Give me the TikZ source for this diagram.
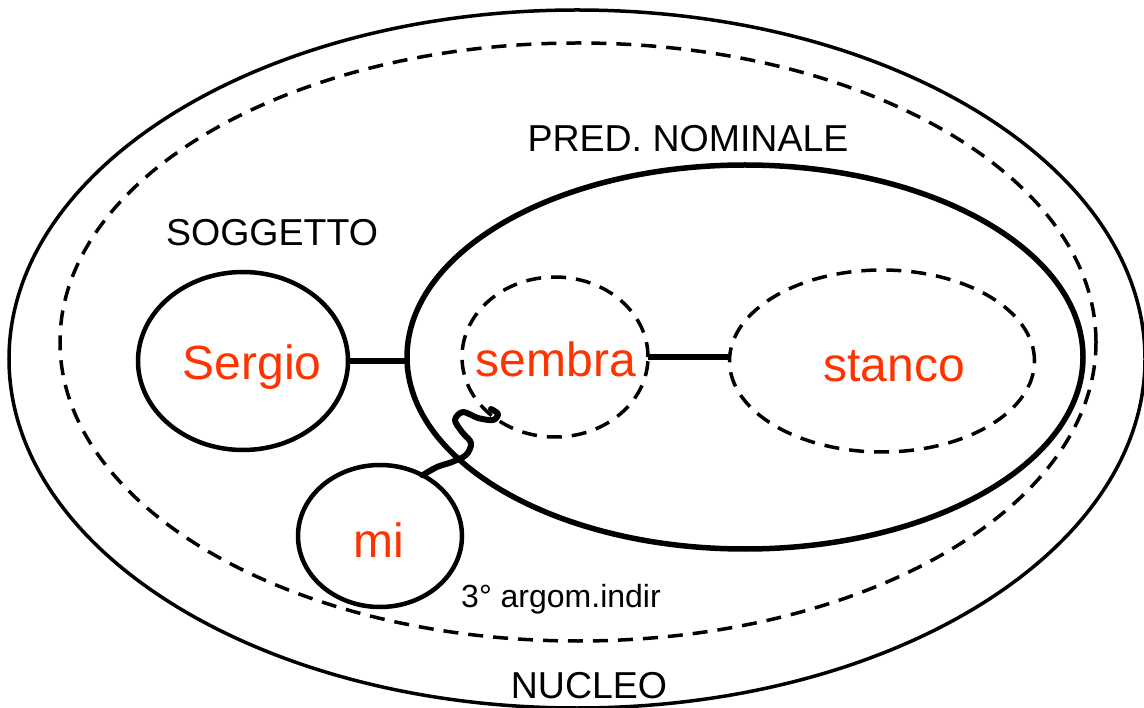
\documentclass[tikz,border=0pt]{standalone}
\usepackage{fontspec}
\setmainfont{Liberation Sans}
\usetikzlibrary{shapes.geometric}
\definecolor{wred}{HTML}{FF3300}
\begin{document}
\begin{tikzpicture}[x=1pt,y=-1pt,
 oval/.style={ellipse, draw, inner sep=0pt, outer sep=0pt},
 lbl/.style={font=\fontsize{37.5}{37.5}\selectfont, anchor=base, inner sep=0pt},
 small/.style={font=\fontsize{32}{32}\selectfont, anchor=base, inner sep=0pt},
 word/.style={font=\fontsize{48}{48}\selectfont, text=wred, anchor=base, inner sep=0pt},
 dsh/.style={dash pattern=on 15pt off 10pt},
 link/.style={line width=6pt},
 wave/.style={line width=6pt, line cap=round, line join=round}
]
\useasboundingbox (0,0) rectangle (1144,708);
% NUCLEO (outer solid) and inner dashed ellipse
\node[oval, line width=3.5pt, minimum width=1136pt, minimum height=698pt] (nucleo) at (577,359) {};
\node[oval, dsh, line width=3.5pt, minimum width=1036pt, minimum height=598pt] (nucleoin) at (578,342) {};
% PRED. NOMINALE
\node[oval, line width=5.5pt, minimum width=676pt, minimum height=384pt] (pred) at (745,357) {};
\node[oval, line width=4.5pt, minimum width=210pt, minimum height=178pt] (sergio) at (243,361) {};
\node[oval, dsh, line width=3.5pt, minimum width=186pt, minimum height=160pt] (sembra) at (555,357) {};
\node[oval, dsh, line width=3.5pt, minimum width=305pt, minimum height=182pt] (stanco) at (882,361) {};
\node[oval, line width=4.5pt, minimum width=164pt, minimum height=142pt] (mi) at (380,536) {};

\draw[link] (sergio.east) -- (sergio.east -| pred.west);
\draw[link] (sembra.east) -- (sembra.east -| stanco.west);
\draw[wave] plot[smooth, tension=0.55] coordinates {(mi.55) (437,467) (452,462) (466,455) (471,443) (462,432) (455,420) (463,412) (478,418) (493,420) (498,414) (491,409)};

\node[lbl] (tsogg) at (272,246) {SOGGETTO};
\node[lbl] (tpred) at (688,152) {PRED. NOMINALE};
\node[lbl] (tnucl) at (589,698) {NUCLEO};
\node[small] (targ) at (561,607) {3° argom.indir};
\node[word] (wsergio) at (252,380) {Sergio};
\node[word] (wsembra) at (556,377) {sembra};
\node[word] (wstanco) at (894,382) {stanco};
\node[word] (wmi) at (379,557) {mi};
\end{tikzpicture}
\end{document}
